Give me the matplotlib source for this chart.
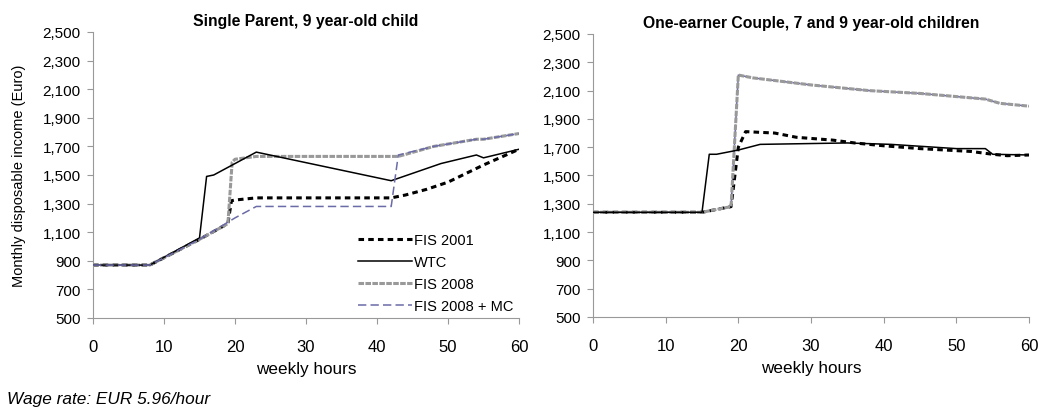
import matplotlib
matplotlib.use("Agg")
import matplotlib.pyplot as plt
import numpy as np

plt.rcParams['font.family'] = ['Liberation Sans', 'DejaVu Sans']
plt.rcParams['lines.scale_dashes'] = False

# Single parent, 9 year-old child
sp_fis01_x = [0, 8, 15, 19, 19.5, 20, 23, 42, 44, 47, 50, 55, 60]
sp_fis01_y = [870, 870, 1050, 1160, 1320, 1325, 1340, 1340, 1360, 1400, 1450, 1570, 1680]
sp_wtc_x = [0, 8, 15, 16, 17, 20, 23, 42, 49, 54, 55, 60]
sp_wtc_y = [870, 870, 1060, 1490, 1500, 1580, 1660, 1460, 1580, 1640, 1620, 1680]
sp_fis08_x = [0, 8, 15, 19, 19.6, 20, 23, 43, 48, 54, 55, 60]
sp_fis08_y = [870, 870, 1050, 1160, 1590, 1610, 1630, 1630, 1700, 1750, 1750, 1790]
sp_mc_x = [0, 8, 15, 20, 23, 42, 43, 48, 54, 55, 60]
sp_mc_y = [870, 870, 1050, 1200, 1280, 1280, 1640, 1700, 1750, 1750, 1790]

# One-earner couple, 7 and 9 year-old children
oc_fis01_x = [0, 15, 19, 20, 21, 25, 28, 33, 36, 40, 45, 52, 55, 57, 60]
oc_fis01_y = [1240, 1240, 1280, 1700, 1810, 1800, 1770, 1750, 1730, 1710, 1690, 1670, 1650, 1640, 1645]
oc_wtc_x = [0, 15, 16, 17, 20, 23, 35, 41, 50, 54, 55, 60]
oc_wtc_y = [1240, 1240, 1650, 1650, 1680, 1720, 1730, 1720, 1690, 1690, 1650, 1645]
oc_fis08_x = [0, 15, 19, 20, 22, 30, 38, 45, 54, 56, 60]
oc_fis08_y = [1240, 1240, 1280, 2210, 2190, 2140, 2100, 2080, 2040, 2010, 1990]
oc_mc_x = oc_fis08_x
oc_mc_y = oc_fis08_y

yticks = np.arange(500, 2501, 200)
xticks = np.arange(0, 61, 10)

fig = plt.figure(figsize=(10.41, 4.14), dpi=100)
ax1 = fig.add_axes([93 / 1041, 1 - 319 / 414, 426 / 1041, 286 / 414])
ax2 = fig.add_axes([593 / 1041, 1 - 318 / 414, 436 / 1041, 283 / 414])


def draw(ax, d, title, mc_top):
    (f1x, f1y), (wx, wy), (f8x, f8y), (mx, my) = d
    ax.plot(mx, my, color='#6b6ba8', lw=1.1, ls=(0, (6, 3)), label='FIS 2008 + MC',
            zorder=5 if mc_top else 2)
    ax.plot(f8x, f8y, color='#999999', lw=2.2, ls=(0, (4, 1)), label='FIS 2008', zorder=3)
    ax.plot(f1x, f1y, color='black', lw=2.2, ls=(0, (4, 3)), label='FIS 2001', zorder=2.5)
    ax.plot(wx, wy, color='black', lw=1.1, label='WTC', zorder=4)
    ax.set_xlim(0, 60)
    ax.set_ylim(500, 2500)
    ax.set_xticks(xticks)
    ax.set_yticks(yticks)
    ax.set_yticklabels([f'{v:,}' for v in yticks], fontsize=11)
    ax.set_xticklabels([str(v) for v in xticks], fontsize=12)
    ax.set_xlabel('weekly hours', fontsize=12.3, labelpad=5)
    ax.set_title(title, fontsize=11.3, fontweight='bold', pad=5)
    for s in ['top', 'right']:
        ax.spines[s].set_visible(False)
    for s in ['left', 'bottom']:
        ax.spines[s].set_color('#999999')
    ax.tick_params(color='#999999', length=4, width=0.8)
    ax.tick_params(axis='x', pad=11)
    ax.tick_params(axis='y', pad=5)


draw(ax1, [(sp_fis01_x, sp_fis01_y), (sp_wtc_x, sp_wtc_y), (sp_fis08_x, sp_fis08_y), (sp_mc_x, sp_mc_y)],
     'Single Parent, 9 year-old child', True)
draw(ax2, [(oc_fis01_x, oc_fis01_y), (oc_wtc_x, oc_wtc_y), (oc_fis08_x, oc_fis08_y), (oc_mc_x, oc_mc_y)],
     'One-earner Couple, 7 and 9 year-old children', False)
ax1.set_ylabel('Monthly disposable income (Euro)', fontsize=10.5, labelpad=12)

h, l = ax1.get_legend_handles_labels()
order = [2, 3, 1, 0]
ax1.legend([h[i] for i in order], [l[i] for i in order], loc='lower right',
           bbox_to_anchor=(1.018, -0.03), frameon=False, fontsize=10.5,
           handlelength=3.7, handletextpad=0.15, labelspacing=0.55)

fig.text(7 / 1041, 1 - 400 / 414, 'Wage rate: EUR 5.96/hour', fontsize=12.4, style='italic', va='center')

fig.savefig('out.png', dpi=100)
